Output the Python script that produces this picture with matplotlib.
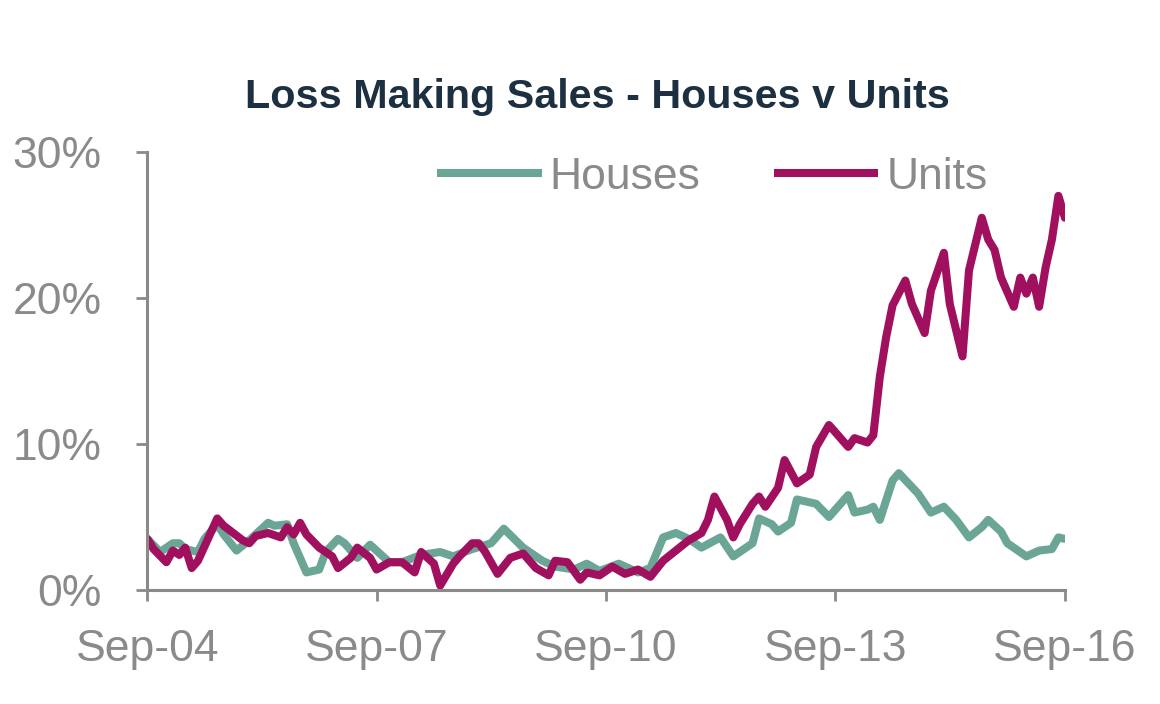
import pandas as pd
import matplotlib
matplotlib.use("Agg")
import matplotlib.pyplot as plt
import matplotlib.dates as mdates
from matplotlib.ticker import PercentFormatter

# months counted from Sep-04, with the value (%) read at each turning point
units_month = [0, 1, 3, 4, 5, 6, 7, 8, 11, 12, 15, 16, 17, 19, 21, 22, 23, 24, 25,
               27, 29, 30, 32, 33, 35, 36, 38, 40, 42, 43, 45, 46, 48, 49, 51, 52,
               53, 55, 57, 59, 61, 63, 64, 66, 68, 69, 71, 73, 75, 77, 79, 81, 83,
               85, 87, 88, 89, 91, 92, 93, 95, 96, 97, 99, 100, 102, 104, 105, 107,
               108, 110, 111, 113, 114, 115, 116, 117, 119, 120, 122, 123, 125, 126,
               128, 129, 131, 132, 133, 134, 136, 137, 138, 139, 140, 141, 142, 143, 144]
units_pct = [3.5, 2.8, 1.9, 2.7, 2.4, 2.9, 1.5, 2.0, 4.9, 4.4, 3.4, 3.2, 3.7, 3.9, 3.6,
             4.3, 3.8, 4.6, 3.8, 2.9, 2.3, 1.5, 2.2, 2.9, 2.2, 1.4, 1.9, 1.9, 1.2, 2.6,
             1.8, 0.3, 1.8, 2.3, 3.2, 3.2, 2.6, 1.1, 2.2, 2.5, 1.5, 1.0, 2.0, 1.9, 0.7,
             1.2, 1.0, 1.6, 1.1, 1.4, 0.9, 2.0, 2.7, 3.4, 3.9, 4.8, 6.4, 4.8, 3.6, 4.5,
             5.9, 6.4, 5.7, 7.0, 8.9, 7.3, 7.9, 9.8, 11.3, 10.8, 9.8, 10.4, 10.1, 10.6,
             14.6, 17.3, 19.5, 21.2, 19.6, 17.6, 20.5, 23.1, 19.6, 16.0, 21.9, 25.5,
             24.0, 23.3, 21.4, 19.4, 21.4, 20.3, 21.4, 19.4, 22.1, 24.0, 27.0, 25.5]

houses_month = [0, 2, 4, 5, 6, 8, 9, 11, 12, 14, 16, 19, 20, 22, 23, 25, 27, 28, 30,
                31, 33, 35, 38, 40, 43, 46, 48, 51, 54, 56, 59, 62, 64, 67, 69, 71,
                74, 77, 79, 81, 83, 85, 87, 90, 92, 95, 96, 98, 99, 101, 102, 105,
                107, 110, 111, 113, 114, 115, 117, 118, 121, 123, 125, 127, 129, 131,
                132, 134, 135, 138, 140, 142, 143, 144]
houses_pct = [3.5, 2.6, 3.2, 3.2, 2.8, 2.6, 3.5, 4.5, 3.8, 2.7, 3.4, 4.6, 4.4, 4.5,
              3.2, 1.2, 1.4, 2.6, 3.5, 3.2, 2.2, 3.1, 1.9, 1.9, 2.4, 2.6, 2.3, 2.8,
              3.2, 4.2, 2.9, 2.0, 1.6, 1.4, 1.8, 1.3, 1.8, 1.2, 1.5, 3.6, 3.9, 3.5,
              2.9, 3.6, 2.3, 3.2, 4.9, 4.5, 4.0, 4.6, 6.2, 5.9, 5.0, 6.5, 5.3, 5.5,
              5.7, 4.8, 7.5, 8.0, 6.6, 5.3, 5.7, 4.8, 3.6, 4.3, 4.8, 4.0, 3.2, 2.3,
              2.7, 2.8, 3.6, 3.5]

title = "Loss Making Sales - Houses v Units"
tick_dates = ["2004-09-01", "2007-09-01", "2010-09-01", "2013-09-01", "2016-09-01"]

months = pd.date_range("2004-09-01", periods=145, freq="MS")
grey = "#8a8a8a"

plt.rcParams["font.family"] = ["Liberation Sans", "DejaVu Sans"]

fig = plt.figure(figsize=(11.6, 7.04), dpi=100)
ax = fig.add_axes([0.127, 0.162, 0.791, 0.622])

ax.plot(months[houses_month], houses_pct, color="#6ba596", lw=5.8,
        solid_joinstyle="round", solid_capstyle="round", label="Houses")
ax.plot(months[units_month], units_pct, color="#a0105e", lw=5.8,
        solid_joinstyle="round", solid_capstyle="round", label="Units")

ax.set_xlim(pd.Timestamp(tick_dates[0]), pd.Timestamp(tick_dates[-1]))
ax.set_ylim(0, 30)
ax.set_xticks(pd.to_datetime(tick_dates))
ax.xaxis.set_major_formatter(mdates.DateFormatter("%b-%y"))
ax.set_yticks([0, 10, 20, 30])
ax.yaxis.set_major_formatter(PercentFormatter(decimals=0))

for side in ["top", "right"]:
    ax.spines[side].set_visible(False)
for side in ["left", "bottom"]:
    ax.spines[side].set_color(grey)
    ax.spines[side].set_linewidth(2.2)
ax.tick_params(axis="both", colors=grey, labelcolor=grey, labelsize=32,
               width=2, length=8)
ax.tick_params(axis="y", pad=25)
ax.tick_params(axis="x", pad=20)

fig.text(0.515, 0.862, title, ha="center", va="center", fontsize=29.7,
         fontweight="bold", color="#1d3042")

leg = ax.legend(loc="center left", bbox_to_anchor=(0.316, 0.943), ncol=2, frameon=False,
                fontsize=32, handlelength=2.35, handletextpad=0.18, columnspacing=1.65,
                borderpad=0, borderaxespad=0, labelcolor=grey)
for line in leg.get_lines():
    line.set_linewidth(5.8)
    line.set_solid_capstyle("butt")

fig.savefig("out.png", dpi=100, facecolor="white")
